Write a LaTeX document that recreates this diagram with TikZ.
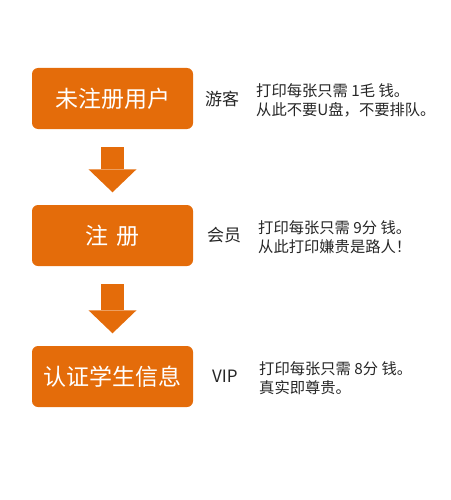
\documentclass[tikz,border=0pt]{standalone}
\usepackage{fontspec}
\usetikzlibrary{arrows.meta}
\newfontfamily\cjk{Noto Sans CJK SC}
\definecolor{stageorange}{HTML}{E46C0A}
\tikzset{
    stagebox/.style={fill=stageorange, rounded corners=6pt, minimum width=161pt, minimum height=61pt, inner sep=0pt, text=white, font=\cjk\fontsize{23}{23}\selectfont},
    taglabel/.style={anchor=west, inner sep=0pt, text=black!85, font=\cjk\fontsize{17}{17}\selectfont},
    pricenote/.style={anchor=west, inner sep=0pt, align=left, text=black!85, font=\cjk\fontsize{15.3}{19}\selectfont},
    stagearrow/.style={draw=stageorange, line width=23pt, -{Triangle[width=48pt,length=23pt,line width=0pt]}, shorten <=18pt, shorten >=12.5pt},
}
% one stage: name, y, box text, tag x, tag, note x, note
\newcommand{\drawstage}[7]{
    \node[stagebox] (#1) at (112.5,#2) {#3};
    \node[taglabel] (#1tag) at (#4,#2) {#5};
    \node[pricenote] (#1note) at (#6,#2+1.5) {#7};
}

\begin{document}
\begin{tikzpicture}[x=1pt, y=-1pt]
    \useasboundingbox (0,0) rectangle (450,500);
    % stages
    \drawstage{guest}{98.5}{未注册用户}{205}{游客}{256}{打印每张只需 1毛 钱。\\从此不要U盘，不要排队。}
    \drawstage{member}{235.5}{注\,\,册}{207}{会员}{258}{打印每张只需 9分 钱。\\从此打印嫌贵是路人！}
    \drawstage{vip}{376.5}{认证学生信息}{212}{VIP}{259}{打印每张只需 8分 钱。\\真实即尊贵。}
    % arrows
    \draw [stagearrow] (guest) -- (member);
    \draw [stagearrow] (member) -- (vip);
\end{tikzpicture}
\end{document}
